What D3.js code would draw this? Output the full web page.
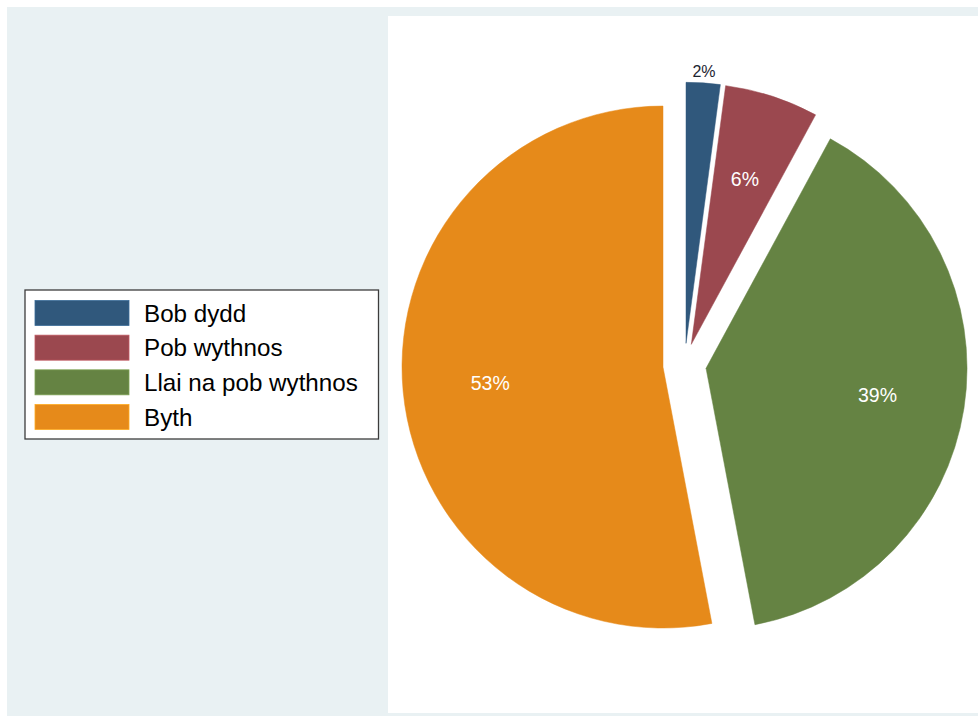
<!DOCTYPE html>
<html>
<head>
<meta charset="utf-8">
<script src="https://cdn.jsdelivr.net/npm/d3@7"></script>
<style>
  html, body { margin: 0; padding: 0; background: #ffffff; }
  svg { display: block; font-family: "Liberation Sans", Arial, sans-serif; }
</style>
</head>
<body>
<svg id="chart" width="978" height="719"></svg>
<script>
// ---- data ----
const categories = ["Bob dydd", "Pob wythnos", "Llai na pob wythnos", "Byth"];
const values = [2.1, 5.8, 39.1, 53.0];
const labels = ["2%", "6%", "39%", "53%"];
const colors = ["#30587c", "#9b484f", "#658343", "#e68a1a"];

const svg = d3.select("#chart");
const W = 978, H = 719;

// outer graph region
svg.append("rect").attr("x", 7).attr("y", 7).attr("width", W - 7).attr("height", 709)
  .attr("fill", "#e9f1f3");
// plot region
svg.append("rect").attr("x", 388).attr("y", 16).attr("width", W - 388).attr("height", 697)
  .attr("fill", "#ffffff");

// pie geometry
const cx = 684.6, cy = 365, R = 261, explode = 21.7;
const pie = d3.pie().sort(null).value(d => d).startAngle(0).endAngle(2 * Math.PI);
const arcs = pie(values);
const arc = d3.arc().innerRadius(0).outerRadius(R);

const g = svg.append("g").attr("transform", `translate(${cx},${cy})`);

arcs.forEach((a, i) => {
  const mid = (a.startAngle + a.endAngle) / 2;
  const ox = Math.sin(mid) * explode, oy = -Math.cos(mid) * explode;
  const sg = g.append("g").attr("transform", `translate(${ox},${oy})`);
  sg.append("path").attr("d", arc(a)).attr("fill", colors[i])
    .attr("stroke", colors[i]).attr("stroke-width", 0.5);
  // labels
  const outside = i === 0;
  const lr = outside ? R + 11 : R * 0.665;
  sg.append("text")
    .attr("x", Math.sin(mid) * lr)
    .attr("y", -Math.cos(mid) * lr)
    .attr("text-anchor", "middle")
    .attr("dominant-baseline", "central")
    .attr("font-size", outside ? 16 : 19.5)
    .attr("fill", outside ? "#1c2430" : "#ffffff")
    .text(labels[i]);
});

// legend
const lg = svg.append("g");
lg.append("rect").attr("x", 25).attr("y", 290).attr("width", 353.5).attr("height", 149)
  .attr("fill", "#ffffff").attr("stroke", "#3c3c3c").attr("stroke-width", 1.3);
const rowY = d3.scalePoint().domain(categories).range([313, 417]);
categories.forEach((c, i) => {
  const y = rowY(c);
  lg.append("rect").attr("x", 35).attr("y", y - 12.5).attr("width", 94).attr("height", 25)
    .attr("fill", colors[i]).attr("stroke", d3.color(colors[i]).brighter(0.6)).attr("stroke-width", 0.8);
  lg.append("text").attr("x", 144).attr("y", y).attr("dominant-baseline", "central")
    .attr("font-size", 24.2).attr("fill", "#000").text(c);
});
</script>
</body>
</html>
